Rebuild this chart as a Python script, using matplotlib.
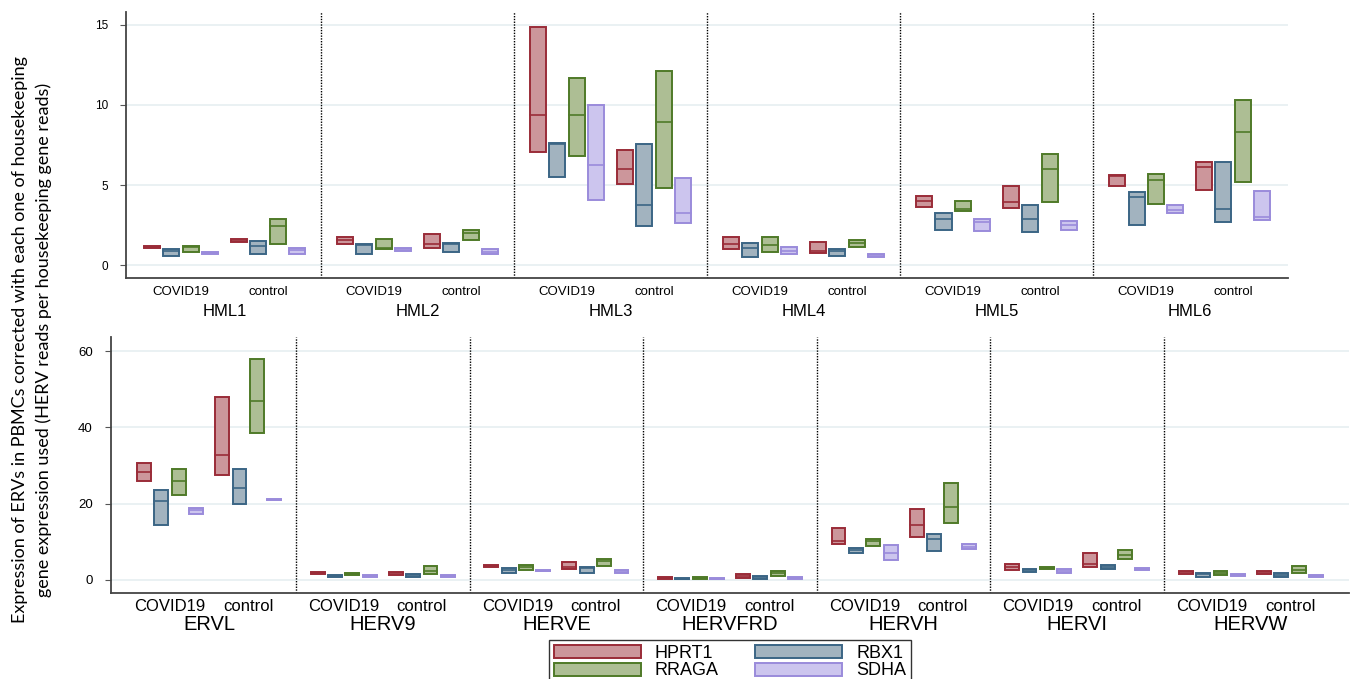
import numpy as np
import matplotlib.pyplot as plt
from matplotlib.patches import Patch

plt.rcParams['font.family'] = ['Liberation Sans', 'DejaVu Sans']

genes = ['HPRT1', 'RBX1', 'RRAGA', 'SDHA']
groups = ['COVID19', 'control']
edge_cols = ['#9a2c38', '#3b6585', '#4f7a28', '#9a8bdb']
fill_cols = ['#cc969b', '#a2b3bf', '#adbe94', '#ccc5ee']

# top panel: HML families; per family -> [COVID19 genes..., control genes...] as (p25, median, p75)
top_names = ['HML1', 'HML2', 'HML3', 'HML4', 'HML5', 'HML6']
top_lo = [
    [1.05, 0.58, 0.79, 0.69, 1.42, 0.67, 1.31, 0.69],
    [1.29, 0.67, 1.00, 0.88, 1.06, 0.79, 1.58, 0.69],
    [7.08, 5.50, 6.79, 4.08, 5.08, 2.46, 4.81, 2.63],
    [1.02, 0.52, 0.79, 0.69, 0.77, 0.56, 1.13, 0.50],
    [3.65, 2.19, 3.38, 2.13, 3.56, 2.04, 3.94, 2.17],
    [4.92, 2.50, 3.83, 3.27, 4.71, 2.67, 5.19, 2.83],
]
top_med = [
    [1.12, 0.85, 1.10, 0.75, 1.52, 1.19, 2.44, 0.95],
    [1.56, 1.25, 1.05, 0.97, 1.29, 1.30, 1.98, 0.83],
    [9.35, 7.54, 9.40, 6.25, 5.98, 3.73, 8.94, 3.27],
    [1.31, 1.04, 1.23, 0.90, 0.90, 0.90, 1.35, 0.60],
    [3.98, 2.88, 3.50, 2.67, 3.94, 2.90, 5.98, 2.48],
    [5.55, 4.27, 5.33, 3.44, 6.10, 3.48, 8.29, 3.02],
]
top_hi = [
    [1.20, 0.98, 1.21, 0.81, 1.64, 1.52, 2.85, 1.08],
    [1.73, 1.33, 1.64, 1.08, 1.96, 1.38, 2.19, 1.00],
    [14.85, 7.65, 11.67, 10.00, 7.17, 7.56, 12.13, 5.44],
    [1.77, 1.40, 1.75, 1.15, 1.44, 1.00, 1.58, 0.69],
    [4.29, 3.23, 4.02, 2.88, 4.94, 3.77, 6.94, 2.73],
    [5.65, 4.54, 5.67, 3.77, 6.44, 6.46, 10.31, 4.63],
]

# bottom panel: other HERV families
bot_names = ['ERVL', 'HERV9', 'HERVE', 'HERVFRD', 'HERVH', 'HERVI', 'HERVW']
bot_lo = [
    [25.9, 14.5, 22.2, 17.2, 27.6, 20.0, 38.6, 20.9],
    [1.5, 0.9, 1.4, 0.9, 1.2, 0.7, 1.57, 0.7],
    [3.3, 1.75, 2.6, 2.3, 2.8, 1.9, 3.7, 1.75],
    [0.35, 0.2, 0.35, 0.2, 0.5, 0.35, 1.05, 0.35],
    [9.4, 7.0, 9.0, 5.3, 11.3, 7.7, 15.0, 8.1],
    [2.7, 2.0, 2.8, 1.75, 3.4, 2.8, 5.6, 2.6],
    [1.65, 0.87, 1.2, 0.97, 1.6, 0.79, 1.8, 0.87],
]
bot_med = [
    [28.2, 20.8, 25.9, 18.3, 32.7, 24.1, 46.9, 21.0],
    [1.8, 1.1, 1.6, 1.1, 1.8, 1.2, 2.45, 1.0],
    [3.7, 2.7, 3.3, 2.45, 3.5, 3.2, 5.0, 2.2],
    [0.6, 0.35, 0.5, 0.35, 1.0, 0.7, 1.8, 0.6],
    [10.3, 7.9, 10.2, 7.0, 14.4, 10.7, 19.2, 8.7],
    [3.4, 2.6, 3.1, 2.3, 4.3, 3.5, 6.5, 2.85],
    [2.0, 1.5, 1.9, 1.2, 2.0, 1.4, 2.7, 1.1],
]
bot_hi = [
    [30.6, 23.7, 29.2, 18.9, 47.9, 29.2, 58.0, 21.2],
    [2.0, 1.3, 1.75, 1.3, 2.2, 1.6, 3.75, 1.3],
    [4.0, 3.1, 3.85, 2.6, 4.8, 3.5, 5.6, 2.6],
    [0.8, 0.5, 0.7, 0.5, 1.5, 0.95, 2.3, 0.9],
    [13.6, 8.3, 10.7, 9.2, 18.7, 12.1, 25.5, 9.35],
    [4.1, 2.9, 3.5, 2.8, 7.1, 3.85, 7.9, 3.1],
    [2.3, 1.75, 2.3, 1.5, 2.3, 1.75, 3.6, 1.3],
]

offsets = np.array([0, 1, 2, 3, 4.5, 5.5, 6.5, 7.5]) + 1.25


def draw_panel(ax, names, lo, med, hi, ylim, yticks, tick_fs, cat_fs, name_fs, name_y, xpad, xlim, bw):
    ax.set_ylim(*ylim)
    ax.set_xlim(*xlim)
    for yt in yticks:
        ax.axhline(yt, color='#e6eff1', lw=1.2, zorder=0)
    for g in range(len(names)):
        for k in range(8):
            j = k % 4
            x = g * 10 + offsets[k]
            ax.bar(x, hi[g][k] - lo[g][k], bottom=lo[g][k], width=bw,
                   facecolor=fill_cols[j], edgecolor=edge_cols[j], lw=1.4, zorder=2)
            ax.plot([x - bw / 2, x + bw / 2], [med[g][k], med[g][k]],
                    color=edge_cols[j], lw=1.2, zorder=3)
        if g > 0:
            ax.axvline(g * 10, color='black', ls=(0, (1, 1)), lw=1.0, zorder=1)
    ticks = []
    labels = []
    for g in range(len(names)):
        ticks += [g * 10 + 2.75, g * 10 + 7.25]
        labels += groups
    ax.set_xticks(ticks)
    ax.set_xticklabels(labels, fontsize=cat_fs)
    ax.tick_params(axis='x', length=0, pad=xpad)
    ax.set_yticks(yticks)
    ax.set_yticklabels([str(v) for v in yticks], fontsize=tick_fs)
    ax.tick_params(axis='y', length=4, color='#555555', pad=9)
    for s in ['top', 'right']:
        ax.spines[s].set_visible(False)
    for s in ['left', 'bottom']:
        ax.spines[s].set_color('#444444')
        ax.spines[s].set_linewidth(1.3)
    for g, n in enumerate(names):
        ax.text(g * 10 + 5, name_y, n, transform=ax.get_xaxis_transform(),
                ha='center', va='top', fontsize=name_fs)


fig = plt.figure(figsize=(13.58, 6.79), dpi=100)
ax1 = fig.add_axes([0.0928, 0.5906, 0.8557, 0.3917])
ax2 = fig.add_axes([0.0817, 0.1267, 0.9117, 0.3770])

draw_panel(ax1, top_names, top_lo, top_med, top_hi, (-0.81, 15.81), [0, 5, 10, 15],
           8.5, 9.5, 12, -0.098, 6, (-0.1, 60.1), 0.83)
draw_panel(ax2, bot_names, bot_lo, bot_med, bot_hi, (-3.4, 63.7), [0, 20, 40, 60],
           9.5, 12, 14.5, -0.088, 4, (-0.65, 70.65), 0.8)

fig.text(0.0235, 0.5, 'Expression of ERVs in PBMCs corrected with each one of housekeeping\n'
         'gene expression used (HERV reads per housekeeping gene reads)',
         rotation=90, ha='center', va='center', fontsize=13, family=['Lato', 'DejaVu Sans'],
         linespacing=1.5)

handles = [Patch(facecolor=fill_cols[i], edgecolor=edge_cols[i], lw=1.4, label=genes[i]) for i in range(4)]
leg = fig.legend(handles=[handles[0], handles[2], handles[1], handles[3]], ncol=2,
                 loc='upper center', bbox_to_anchor=(730 / 1358, 1 - 631 / 679),
                 fontsize=13, frameon=True, fancybox=False, edgecolor='black',
                 handlelength=4.8, handleheight=0.75, labelspacing=0.05,
                 columnspacing=2.0, borderpad=0.25)
leg.get_frame().set_linewidth(1.0)

fig.savefig('out.png', dpi=100)
